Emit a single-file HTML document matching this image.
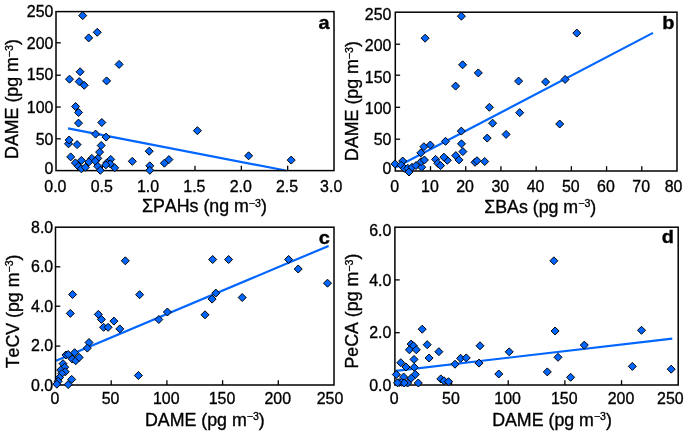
<!DOCTYPE html>
<html><head><meta charset="utf-8"><style>
html,body{margin:0;padding:0;background:#fff;width:685px;height:432px;overflow:hidden}
svg{display:block;font-family:"Liberation Sans", sans-serif;will-change:transform;font-kerning:none}
svg text{fill:#000;stroke:#000;stroke-width:0.35px}
</style></head><body>
<svg width="685" height="432" viewBox="0 0 685 432">
<rect width="685" height="432" fill="#fff"/>
<line x1="68.0" y1="128.4" x2="285.7" y2="170.5" stroke="#0066ff" stroke-width="2.2"/>
<line x1="56.0" y1="42.8" x2="60.8" y2="42.8" stroke="#000" stroke-width="1.3"/>
<line x1="56.0" y1="75.2" x2="60.8" y2="75.2" stroke="#000" stroke-width="1.3"/>
<line x1="56.0" y1="107.05" x2="60.8" y2="107.05" stroke="#000" stroke-width="1.3"/>
<line x1="56.0" y1="138.8" x2="60.8" y2="138.8" stroke="#000" stroke-width="1.3"/>
<line x1="102.33" y1="170.6" x2="102.33" y2="165.79999999999998" stroke="#000" stroke-width="1.3"/>
<line x1="148.67" y1="170.6" x2="148.67" y2="165.79999999999998" stroke="#000" stroke-width="1.3"/>
<line x1="195.00" y1="170.6" x2="195.00" y2="165.79999999999998" stroke="#000" stroke-width="1.3"/>
<line x1="241.33" y1="170.6" x2="241.33" y2="165.79999999999998" stroke="#000" stroke-width="1.3"/>
<line x1="287.67" y1="170.6" x2="287.67" y2="165.79999999999998" stroke="#000" stroke-width="1.3"/>
<rect x="56.0" y="11.6" width="278.00" height="159.00" fill="none" stroke="#000" stroke-width="1.5"/>
<g fill="#0066ff" stroke="#000000" stroke-width="1.0">
<path d="M82.70 11.60L86.70 15.60L82.70 19.60L78.70 15.60Z"/>
<path d="M97.25 28.30L101.25 32.30L97.25 36.30L93.25 32.30Z"/>
<path d="M88.70 33.90L92.70 37.90L88.70 41.90L84.70 37.90Z"/>
<path d="M119.10 60.40L123.10 64.40L119.10 68.40L115.10 64.40Z"/>
<path d="M80.10 67.80L84.10 71.80L80.10 75.80L76.10 71.80Z"/>
<path d="M69.50 75.20L73.50 79.20L69.50 83.20L65.50 79.20Z"/>
<path d="M79.20 77.60L83.20 81.60L79.20 85.60L75.20 81.60Z"/>
<path d="M84.20 81.30L88.20 85.30L84.20 89.30L80.20 85.30Z"/>
<path d="M106.60 76.90L110.60 80.90L106.60 84.90L102.60 80.90Z"/>
<path d="M75.60 102.50L79.60 106.50L75.60 110.50L71.60 106.50Z"/>
<path d="M78.60 108.50L82.60 112.50L78.60 116.50L74.60 112.50Z"/>
<path d="M78.50 119.10L82.50 123.10L78.50 127.10L74.50 123.10Z"/>
<path d="M101.80 118.50L105.80 122.50L101.80 126.50L97.80 122.50Z"/>
<path d="M95.60 130.10L99.60 134.10L95.60 138.10L91.60 134.10Z"/>
<path d="M106.10 133.10L110.10 137.10L106.10 141.10L102.10 137.10Z"/>
<path d="M68.50 139.80L72.50 143.80L68.50 147.80L64.50 143.80Z"/>
<path d="M69.15 136.00L73.15 140.00L69.15 144.00L65.15 140.00Z"/>
<path d="M77.10 140.60L81.10 144.60L77.10 148.60L73.10 144.60Z"/>
<path d="M101.20 141.50L105.20 145.50L101.20 149.50L97.20 145.50Z"/>
<path d="M99.60 148.10L103.60 152.10L99.60 156.10L95.60 152.10Z"/>
<path d="M149.20 147.20L153.20 151.20L149.20 155.20L145.20 151.20Z"/>
<path d="M70.70 152.90L74.70 156.90L70.70 160.90L66.70 156.90Z"/>
<path d="M75.40 158.90L79.40 162.90L75.40 166.90L71.40 162.90Z"/>
<path d="M81.40 156.40L85.40 160.40L81.40 164.40L77.40 160.40Z"/>
<path d="M91.80 154.40L95.80 158.40L91.80 162.40L87.80 158.40Z"/>
<path d="M88.90 157.90L92.90 161.90L88.90 165.90L84.90 161.90Z"/>
<path d="M97.80 154.40L101.80 158.40L97.80 162.40L93.80 158.40Z"/>
<path d="M95.30 157.10L99.30 161.10L95.30 165.10L91.30 161.10Z"/>
<path d="M78.40 162.30L82.40 166.30L78.40 170.30L74.40 166.30Z"/>
<path d="M81.40 164.80L85.40 168.80L81.40 172.80L77.40 168.80Z"/>
<path d="M85.40 163.30L89.40 167.30L85.40 171.30L81.40 167.30Z"/>
<path d="M97.80 162.30L101.80 166.30L97.80 170.30L93.80 166.30Z"/>
<path d="M100.30 166.30L104.30 170.30L100.30 174.30L96.30 170.30Z"/>
<path d="M110.70 155.40L114.70 159.40L110.70 163.40L106.70 159.40Z"/>
<path d="M106.80 158.90L110.80 162.90L106.80 166.90L102.80 162.90Z"/>
<path d="M110.20 159.90L114.20 163.90L110.20 167.90L106.20 163.90Z"/>
<path d="M114.70 163.80L118.70 167.80L114.70 171.80L110.70 167.80Z"/>
<path d="M105.80 160.90L109.80 164.90L105.80 168.90L101.80 164.90Z"/>
<path d="M132.30 157.30L136.30 161.30L132.30 165.30L128.30 161.30Z"/>
<path d="M149.80 161.80L153.80 165.80L149.80 169.80L145.80 165.80Z"/>
<path d="M149.80 166.30L153.80 170.30L149.80 174.30L145.80 170.30Z"/>
<path d="M164.40 159.20L168.40 163.20L164.40 167.20L160.40 163.20Z"/>
<path d="M168.90 155.60L172.90 159.60L168.90 163.60L164.90 159.60Z"/>
<path d="M197.40 126.70L201.40 130.70L197.40 134.70L193.40 130.70Z"/>
<path d="M248.60 151.80L252.60 155.80L248.60 159.80L244.60 155.80Z"/>
<path d="M291.20 156.10L295.20 160.10L291.20 164.10L287.20 160.10Z"/>
</g>
<text transform="translate(53.4,48.91) scale(0.95,1)" text-anchor="end" font-size="16.8">200</text>
<text transform="translate(53.4,80.01) scale(0.95,1)" text-anchor="end" font-size="16.8">150</text>
<text transform="translate(53.4,112.71) scale(0.95,1)" text-anchor="end" font-size="16.8">100</text>
<text transform="translate(53.4,144.81) scale(0.95,1)" text-anchor="end" font-size="16.8">50</text>
<text transform="translate(53.4,17.11) scale(0.95,1)" text-anchor="end" font-size="16.8">250</text>
<text transform="translate(53.4,174.01) scale(0.95,1)" text-anchor="end" font-size="16.8">0</text>
<text transform="translate(55.40,191.61) scale(0.95,1)" text-anchor="middle" font-size="16.8">0.0</text>
<text transform="translate(101.73,191.61) scale(0.95,1)" text-anchor="middle" font-size="16.8">0.5</text>
<text transform="translate(148.07,191.61) scale(0.95,1)" text-anchor="middle" font-size="16.8">1.0</text>
<text transform="translate(194.40,191.61) scale(0.95,1)" text-anchor="middle" font-size="16.8">1.5</text>
<text transform="translate(240.73,191.61) scale(0.95,1)" text-anchor="middle" font-size="16.8">2.0</text>
<text transform="translate(287.07,191.61) scale(0.95,1)" text-anchor="middle" font-size="16.8">2.5</text>
<text transform="translate(331.20,191.61) scale(0.95,1)" text-anchor="middle" font-size="16.8">3.0</text>
<text x="204.45" y="211.9" text-anchor="middle" font-size="17.8">ΣPAHs (ng m<tspan font-size="10.6" dy="-5.3">−</tspan><tspan font-size="10.6">3</tspan><tspan dy="5.3">)</tspan></text>
<text transform="translate(17.9,99.0) rotate(-90)" x="0" y="0" text-anchor="middle" font-size="17.8">DAME (pg m<tspan font-size="10.6" dy="-5.3">−</tspan><tspan font-size="10.6">3</tspan><tspan dy="5.3">)</tspan></text>
<text transform="translate(329.5,28.5) scale(1.05,1)" text-anchor="end" font-size="19" font-weight="bold">a</text>
<line x1="396.0" y1="167.3" x2="653.0" y2="32.9" stroke="#0066ff" stroke-width="2.2"/>
<line x1="395.3" y1="44.2" x2="400.1" y2="44.2" stroke="#000" stroke-width="1.3"/>
<line x1="395.3" y1="75.2" x2="400.1" y2="75.2" stroke="#000" stroke-width="1.3"/>
<line x1="395.3" y1="107.3" x2="400.1" y2="107.3" stroke="#000" stroke-width="1.3"/>
<line x1="395.3" y1="139.2" x2="400.1" y2="139.2" stroke="#000" stroke-width="1.3"/>
<line x1="430.51" y1="171.0" x2="430.51" y2="166.2" stroke="#000" stroke-width="1.3"/>
<line x1="465.73" y1="171.0" x2="465.73" y2="166.2" stroke="#000" stroke-width="1.3"/>
<line x1="500.94" y1="171.0" x2="500.94" y2="166.2" stroke="#000" stroke-width="1.3"/>
<line x1="536.15" y1="171.0" x2="536.15" y2="166.2" stroke="#000" stroke-width="1.3"/>
<line x1="571.36" y1="171.0" x2="571.36" y2="166.2" stroke="#000" stroke-width="1.3"/>
<line x1="606.58" y1="171.0" x2="606.58" y2="166.2" stroke="#000" stroke-width="1.3"/>
<line x1="641.79" y1="171.0" x2="641.79" y2="166.2" stroke="#000" stroke-width="1.3"/>
<rect x="395.3" y="12.2" width="281.70" height="158.80" fill="none" stroke="#000" stroke-width="1.5"/>
<g fill="#0066ff" stroke="#000000" stroke-width="1.0">
<path d="M461.40 12.20L465.40 16.20L461.40 20.20L457.40 16.20Z"/>
<path d="M425.10 34.20L429.10 38.20L425.10 42.20L421.10 38.20Z"/>
<path d="M576.80 29.10L580.80 33.10L576.80 37.10L572.80 33.10Z"/>
<path d="M462.60 60.80L466.60 64.80L462.60 68.80L458.60 64.80Z"/>
<path d="M478.30 68.90L482.30 72.90L478.30 76.90L474.30 72.90Z"/>
<path d="M455.60 82.10L459.60 86.10L455.60 90.10L451.60 86.10Z"/>
<path d="M518.60 77.10L522.60 81.10L518.60 85.10L514.60 81.10Z"/>
<path d="M545.60 77.90L549.60 81.90L545.60 85.90L541.60 81.90Z"/>
<path d="M565.10 75.40L569.10 79.40L565.10 83.40L561.10 79.40Z"/>
<path d="M489.40 103.30L493.40 107.30L489.40 111.30L485.40 107.30Z"/>
<path d="M519.70 108.70L523.70 112.70L519.70 116.70L515.70 112.70Z"/>
<path d="M492.60 119.20L496.60 123.20L492.60 127.20L488.60 123.20Z"/>
<path d="M559.70 120.00L563.70 124.00L559.70 128.00L555.70 124.00Z"/>
<path d="M506.10 130.40L510.10 134.40L506.10 138.40L502.10 134.40Z"/>
<path d="M487.20 134.10L491.20 138.10L487.20 142.10L483.20 138.10Z"/>
<path d="M461.30 127.10L465.30 131.10L461.30 135.10L457.30 131.10Z"/>
<path d="M445.50 137.30L449.50 141.30L445.50 145.30L441.50 141.30Z"/>
<path d="M461.50 139.80L465.50 143.80L461.50 147.80L457.50 143.80Z"/>
<path d="M462.90 147.60L466.90 151.60L462.90 155.60L458.90 151.60Z"/>
<path d="M455.80 151.60L459.80 155.60L455.80 159.60L451.80 155.60Z"/>
<path d="M459.00 155.90L463.00 159.90L459.00 163.90L455.00 159.90Z"/>
<path d="M447.30 156.30L451.30 160.30L447.30 164.30L443.30 160.30Z"/>
<path d="M475.00 158.30L479.00 162.30L475.00 166.30L471.00 162.30Z"/>
<path d="M477.00 156.70L481.00 160.70L477.00 164.70L473.00 160.70Z"/>
<path d="M484.70 157.50L488.70 161.50L484.70 165.50L480.70 161.50Z"/>
<path d="M430.30 141.00L434.30 145.00L430.30 149.00L426.30 145.00Z"/>
<path d="M423.90 142.70L427.90 146.70L423.90 150.70L419.90 146.70Z"/>
<path d="M420.80 148.90L424.80 152.90L420.80 156.90L416.80 152.90Z"/>
<path d="M435.60 155.40L439.60 159.40L435.60 163.40L431.60 159.40Z"/>
<path d="M437.80 159.30L441.80 163.30L437.80 167.30L433.80 163.30Z"/>
<path d="M440.60 161.60L444.60 165.60L440.60 169.60L436.60 165.60Z"/>
<path d="M443.90 153.20L447.90 157.20L443.90 161.20L439.90 157.20Z"/>
<path d="M395.00 159.90L399.00 163.90L395.00 167.90L391.00 163.90Z"/>
<path d="M402.70 157.00L406.70 161.00L402.70 165.00L398.70 161.00Z"/>
<path d="M401.20 161.20L405.20 165.20L401.20 169.20L397.20 165.20Z"/>
<path d="M404.40 164.30L408.40 168.30L404.40 172.30L400.40 168.30Z"/>
<path d="M407.80 164.30L411.80 168.30L407.80 172.30L403.80 168.30Z"/>
<path d="M409.00 168.00L413.00 172.00L409.00 176.00L405.00 172.00Z"/>
<path d="M412.00 163.30L416.00 167.30L412.00 171.30L408.00 167.30Z"/>
<path d="M416.00 161.60L420.00 165.60L416.00 169.60L412.00 165.60Z"/>
<path d="M421.70 163.20L425.70 167.20L421.70 171.20L417.70 167.20Z"/>
<path d="M421.10 157.70L425.10 161.70L421.10 165.70L417.10 161.70Z"/>
<path d="M424.40 156.00L428.40 160.00L424.40 164.00L420.40 160.00Z"/>
</g>
<text transform="translate(391.4,51.41) scale(0.95,1)" text-anchor="end" font-size="16.8">200</text>
<text transform="translate(391.4,82.71) scale(0.95,1)" text-anchor="end" font-size="16.8">150</text>
<text transform="translate(391.4,114.41) scale(0.95,1)" text-anchor="end" font-size="16.8">100</text>
<text transform="translate(391.4,145.21) scale(0.95,1)" text-anchor="end" font-size="16.8">50</text>
<text transform="translate(391.4,20.21) scale(0.95,1)" text-anchor="end" font-size="16.8">250</text>
<text transform="translate(391.4,174.31) scale(0.95,1)" text-anchor="end" font-size="16.8">0</text>
<text transform="translate(394.70,192.01) scale(0.95,1)" text-anchor="middle" font-size="16.8">0</text>
<text transform="translate(429.91,192.01) scale(0.95,1)" text-anchor="middle" font-size="16.8">10</text>
<text transform="translate(465.12,192.01) scale(0.95,1)" text-anchor="middle" font-size="16.8">20</text>
<text transform="translate(500.34,192.01) scale(0.95,1)" text-anchor="middle" font-size="16.8">30</text>
<text transform="translate(535.55,192.01) scale(0.95,1)" text-anchor="middle" font-size="16.8">40</text>
<text transform="translate(570.76,192.01) scale(0.95,1)" text-anchor="middle" font-size="16.8">50</text>
<text transform="translate(605.98,192.01) scale(0.95,1)" text-anchor="middle" font-size="16.8">60</text>
<text transform="translate(641.19,192.01) scale(0.95,1)" text-anchor="middle" font-size="16.8">70</text>
<text transform="translate(673.50,192.01) scale(0.95,1)" text-anchor="middle" font-size="16.8">80</text>
<text x="540.2" y="212.5" text-anchor="middle" font-size="17.8">ΣBAs (pg m<tspan font-size="10.6" dy="-5.3">−</tspan><tspan font-size="10.6">3</tspan><tspan dy="5.3">)</tspan></text>
<text transform="translate(358.1,101.0) rotate(-90)" x="0" y="0" text-anchor="middle" font-size="17.8">DAME (pg m<tspan font-size="10.6" dy="-5.3">−</tspan><tspan font-size="10.6">3</tspan><tspan dy="5.3">)</tspan></text>
<text transform="translate(674.4,28.7) scale(1.05,1)" text-anchor="end" font-size="19" font-weight="bold">b</text>
<line x1="56.0" y1="360.8" x2="328.6" y2="245.9" stroke="#0066ff" stroke-width="2.2"/>
<line x1="55.5" y1="266.8" x2="60.3" y2="266.8" stroke="#000" stroke-width="1.3"/>
<line x1="55.5" y1="306.2" x2="60.3" y2="306.2" stroke="#000" stroke-width="1.3"/>
<line x1="55.5" y1="346.1" x2="60.3" y2="346.1" stroke="#000" stroke-width="1.3"/>
<line x1="111.20" y1="385.0" x2="111.20" y2="380.2" stroke="#000" stroke-width="1.3"/>
<line x1="166.90" y1="385.0" x2="166.90" y2="380.2" stroke="#000" stroke-width="1.3"/>
<line x1="222.60" y1="385.0" x2="222.60" y2="380.2" stroke="#000" stroke-width="1.3"/>
<line x1="278.30" y1="385.0" x2="278.30" y2="380.2" stroke="#000" stroke-width="1.3"/>
<rect x="55.5" y="227.2" width="278.50" height="157.80" fill="none" stroke="#000" stroke-width="1.5"/>
<g fill="#0066ff" stroke="#000000" stroke-width="1.0">
<path d="M125.30 256.80L129.30 260.80L125.30 264.80L121.30 260.80Z"/>
<path d="M72.60 290.50L76.60 294.50L72.60 298.50L68.60 294.50Z"/>
<path d="M139.60 290.70L143.60 294.70L139.60 298.70L135.60 294.70Z"/>
<path d="M70.30 309.40L74.30 313.40L70.30 317.40L66.30 313.40Z"/>
<path d="M98.30 310.40L102.30 314.40L98.30 318.40L94.30 314.40Z"/>
<path d="M101.40 315.40L105.40 319.40L101.40 323.40L97.40 319.40Z"/>
<path d="M103.60 323.30L107.60 327.30L103.60 331.30L99.60 327.30Z"/>
<path d="M108.10 323.30L112.10 327.30L108.10 331.30L104.10 327.30Z"/>
<path d="M113.90 317.10L117.90 321.10L113.90 325.10L109.90 321.10Z"/>
<path d="M119.80 324.90L123.80 328.90L119.80 332.90L115.80 328.90Z"/>
<path d="M158.80 315.50L162.80 319.50L158.80 323.50L154.80 319.50Z"/>
<path d="M167.40 308.00L171.40 312.00L167.40 316.00L163.40 312.00Z"/>
<path d="M205.00 310.80L209.00 314.80L205.00 318.80L201.00 314.80Z"/>
<path d="M138.40 371.50L142.40 375.50L138.40 379.50L134.40 375.50Z"/>
<path d="M212.70 255.50L216.70 259.50L212.70 263.50L208.70 259.50Z"/>
<path d="M228.60 255.50L232.60 259.50L228.60 263.50L224.60 259.50Z"/>
<path d="M288.60 255.50L292.60 259.50L288.60 263.50L284.60 259.50Z"/>
<path d="M298.20 265.00L302.20 269.00L298.20 273.00L294.20 269.00Z"/>
<path d="M327.50 279.20L331.50 283.20L327.50 287.20L323.50 283.20Z"/>
<path d="M215.80 289.10L219.80 293.10L215.80 297.10L211.80 293.10Z"/>
<path d="M212.10 295.10L216.10 299.10L212.10 303.10L208.10 299.10Z"/>
<path d="M242.20 293.50L246.20 297.50L242.20 301.50L238.20 297.50Z"/>
<path d="M89.00 338.50L93.00 342.50L89.00 346.50L85.00 342.50Z"/>
<path d="M87.30 344.10L91.30 348.10L87.30 352.10L83.30 348.10Z"/>
<path d="M65.90 351.00L69.90 355.00L65.90 359.00L61.90 355.00Z"/>
<path d="M68.20 350.50L72.20 354.50L68.20 358.50L64.20 354.50Z"/>
<path d="M74.60 348.70L78.60 352.70L74.60 356.70L70.60 352.70Z"/>
<path d="M72.30 355.10L76.30 359.10L72.30 363.10L68.30 359.10Z"/>
<path d="M75.70 356.80L79.70 360.80L75.70 364.80L71.70 360.80Z"/>
<path d="M79.20 353.40L83.20 357.40L79.20 361.40L75.20 357.40Z"/>
<path d="M63.00 359.70L67.00 363.70L63.00 367.70L59.00 363.70Z"/>
<path d="M64.70 363.20L68.70 367.20L64.70 371.20L60.70 367.20Z"/>
<path d="M60.70 366.10L64.70 370.10L60.70 374.10L56.70 370.10Z"/>
<path d="M65.30 367.80L69.30 371.80L65.30 375.80L61.30 371.80Z"/>
<path d="M61.80 369.60L65.80 373.60L61.80 377.60L57.80 373.60Z"/>
<path d="M59.50 373.60L63.50 377.60L59.50 381.60L55.50 377.60Z"/>
<path d="M58.20 377.30L62.20 381.30L58.20 385.30L54.20 381.30Z"/>
<path d="M56.90 380.20L60.90 384.20L56.90 388.20L52.90 384.20Z"/>
<path d="M71.70 375.40L75.70 379.40L71.70 383.40L67.70 379.40Z"/>
<path d="M68.20 380.60L72.20 384.60L68.20 388.60L64.20 384.60Z"/>
</g>
<text transform="translate(53.2,272.41) scale(0.95,1)" text-anchor="end" font-size="16.8">6.0</text>
<text transform="translate(53.2,312.01) scale(0.95,1)" text-anchor="end" font-size="16.8">4.0</text>
<text transform="translate(53.2,351.41) scale(0.95,1)" text-anchor="end" font-size="16.8">2.0</text>
<text transform="translate(53.2,232.51) scale(0.95,1)" text-anchor="end" font-size="16.8">8.0</text>
<text transform="translate(53.2,390.91) scale(0.95,1)" text-anchor="end" font-size="16.8">0.0</text>
<text transform="translate(54.90,404.11) scale(0.95,1)" text-anchor="middle" font-size="16.8">0</text>
<text transform="translate(110.60,404.11) scale(0.95,1)" text-anchor="middle" font-size="16.8">50</text>
<text transform="translate(166.30,404.11) scale(0.95,1)" text-anchor="middle" font-size="16.8">100</text>
<text transform="translate(222.00,404.11) scale(0.95,1)" text-anchor="middle" font-size="16.8">150</text>
<text transform="translate(277.70,404.11) scale(0.95,1)" text-anchor="middle" font-size="16.8">200</text>
<text transform="translate(330.00,404.11) scale(0.95,1)" text-anchor="middle" font-size="16.8">250</text>
<text x="204.9" y="425.5" text-anchor="middle" font-size="17.8">DAME (pg m<tspan font-size="10.6" dy="-5.3">−</tspan><tspan font-size="10.6">3</tspan><tspan dy="5.3">)</tspan></text>
<text transform="translate(18.5,311.45) rotate(-90)" x="0" y="0" text-anchor="middle" font-size="17.8">TeCV (pg m<tspan font-size="10.6" dy="-5.3">−</tspan><tspan font-size="10.6">3</tspan><tspan dy="5.3">)</tspan></text>
<text transform="translate(329.8,243.5) scale(1.05,1)" text-anchor="end" font-size="19" font-weight="bold">c</text>
<line x1="396.0" y1="370.8" x2="672.3" y2="338.6" stroke="#0066ff" stroke-width="2.2"/>
<line x1="394.9" y1="279.9" x2="399.7" y2="279.9" stroke="#000" stroke-width="1.3"/>
<line x1="394.9" y1="332.7" x2="399.7" y2="332.7" stroke="#000" stroke-width="1.3"/>
<line x1="451.56" y1="385.0" x2="451.56" y2="380.2" stroke="#000" stroke-width="1.3"/>
<line x1="508.22" y1="385.0" x2="508.22" y2="380.2" stroke="#000" stroke-width="1.3"/>
<line x1="564.88" y1="385.0" x2="564.88" y2="380.2" stroke="#000" stroke-width="1.3"/>
<line x1="621.54" y1="385.0" x2="621.54" y2="380.2" stroke="#000" stroke-width="1.3"/>
<rect x="394.9" y="227.2" width="283.30" height="157.80" fill="none" stroke="#000" stroke-width="1.5"/>
<g fill="#0066ff" stroke="#000000" stroke-width="1.0">
<path d="M553.90 256.80L557.90 260.80L553.90 264.80L549.90 260.80Z"/>
<path d="M422.20 325.20L426.20 329.20L422.20 333.20L418.20 329.20Z"/>
<path d="M555.10 327.00L559.10 331.00L555.10 335.00L551.10 331.00Z"/>
<path d="M641.50 326.30L645.50 330.30L641.50 334.30L637.50 330.30Z"/>
<path d="M411.10 340.10L415.10 344.10L411.10 348.10L407.10 344.10Z"/>
<path d="M413.40 341.80L417.40 345.80L413.40 349.80L409.40 345.80Z"/>
<path d="M409.40 345.80L413.40 349.80L409.40 353.80L405.40 349.80Z"/>
<path d="M416.30 345.80L420.30 349.80L416.30 353.80L412.30 349.80Z"/>
<path d="M427.20 340.70L431.20 344.70L427.20 348.70L423.20 344.70Z"/>
<path d="M438.90 347.70L442.90 351.70L438.90 355.70L434.90 351.70Z"/>
<path d="M429.10 354.00L433.10 358.00L429.10 362.00L425.10 358.00Z"/>
<path d="M414.00 355.40L418.00 359.40L414.00 363.40L410.00 359.40Z"/>
<path d="M400.80 358.70L404.80 362.70L400.80 366.70L396.80 362.70Z"/>
<path d="M406.00 363.00L410.00 367.00L406.00 371.00L402.00 367.00Z"/>
<path d="M414.30 363.30L418.30 367.30L414.30 371.30L410.30 367.30Z"/>
<path d="M396.30 370.50L400.30 374.50L396.30 378.50L392.30 374.50Z"/>
<path d="M415.30 370.40L419.30 374.40L415.30 378.40L411.30 374.40Z"/>
<path d="M403.60 373.00L407.60 377.00L403.60 381.00L399.60 377.00Z"/>
<path d="M411.20 374.20L415.20 378.20L411.20 382.20L407.20 378.20Z"/>
<path d="M399.20 378.50L403.20 382.50L399.20 386.50L395.20 382.50Z"/>
<path d="M401.60 378.30L405.60 382.30L401.60 386.30L397.60 382.30Z"/>
<path d="M407.60 379.00L411.60 383.00L407.60 387.00L403.60 383.00Z"/>
<path d="M418.30 379.00L422.30 383.00L418.30 387.00L414.30 383.00Z"/>
<path d="M404.20 379.00L408.20 383.00L404.20 387.00L400.20 383.00Z"/>
<path d="M397.50 378.80L401.50 382.80L397.50 386.80L393.50 382.80Z"/>
<path d="M480.00 341.80L484.00 345.80L480.00 349.80L476.00 345.80Z"/>
<path d="M509.20 347.80L513.20 351.80L509.20 355.80L505.20 351.80Z"/>
<path d="M460.60 354.30L464.60 358.30L460.60 362.30L456.60 358.30Z"/>
<path d="M466.25 353.90L470.25 357.90L466.25 361.90L462.25 357.90Z"/>
<path d="M455.00 360.20L459.00 364.20L455.00 368.20L451.00 364.20Z"/>
<path d="M479.00 359.10L483.00 363.10L479.00 367.10L475.00 363.10Z"/>
<path d="M498.75 370.00L502.75 374.00L498.75 378.00L494.75 374.00Z"/>
<path d="M440.80 374.90L444.80 378.90L440.80 382.90L436.80 378.90Z"/>
<path d="M444.00 376.80L448.00 380.80L444.00 384.80L440.00 380.80Z"/>
<path d="M448.50 377.70L452.50 381.70L448.50 385.70L444.50 381.70Z"/>
<path d="M558.00 353.30L562.00 357.30L558.00 361.30L554.00 357.30Z"/>
<path d="M584.30 341.10L588.30 345.10L584.30 349.10L580.30 345.10Z"/>
<path d="M547.30 367.90L551.30 371.90L547.30 375.90L543.30 371.90Z"/>
<path d="M570.60 373.30L574.60 377.30L570.60 381.30L566.60 377.30Z"/>
<path d="M632.30 362.40L636.30 366.40L632.30 370.40L628.30 366.40Z"/>
<path d="M671.20 365.20L675.20 369.20L671.20 373.20L667.20 369.20Z"/>
</g>
<text transform="translate(391.4,285.51) scale(0.95,1)" text-anchor="end" font-size="16.8">4.0</text>
<text transform="translate(391.4,338.11) scale(0.95,1)" text-anchor="end" font-size="16.8">2.0</text>
<text transform="translate(391.4,235.61) scale(0.95,1)" text-anchor="end" font-size="16.8">6.0</text>
<text transform="translate(391.4,391.01) scale(0.95,1)" text-anchor="end" font-size="16.8">0.0</text>
<text transform="translate(394.30,404.21) scale(0.95,1)" text-anchor="middle" font-size="16.8">0</text>
<text transform="translate(450.96,404.21) scale(0.95,1)" text-anchor="middle" font-size="16.8">50</text>
<text transform="translate(507.62,404.21) scale(0.95,1)" text-anchor="middle" font-size="16.8">100</text>
<text transform="translate(564.28,404.21) scale(0.95,1)" text-anchor="middle" font-size="16.8">150</text>
<text transform="translate(620.94,404.21) scale(0.95,1)" text-anchor="middle" font-size="16.8">200</text>
<text transform="translate(670.40,404.21) scale(0.95,1)" text-anchor="middle" font-size="16.8">250</text>
<text x="552.05" y="425.5" text-anchor="middle" font-size="17.8">DAME (pg m<tspan font-size="10.6" dy="-5.3">−</tspan><tspan font-size="10.6">3</tspan><tspan dy="5.3">)</tspan></text>
<text transform="translate(358.2,311.1) rotate(-90)" x="0" y="0" text-anchor="middle" font-size="17.8">PeCA (pg m<tspan font-size="10.6" dy="-5.3">−</tspan><tspan font-size="10.6">3</tspan><tspan dy="5.3">)</tspan></text>
<text transform="translate(673.9,242.8) scale(1.05,1)" text-anchor="end" font-size="19" font-weight="bold">d</text>
</svg>
</body></html>
